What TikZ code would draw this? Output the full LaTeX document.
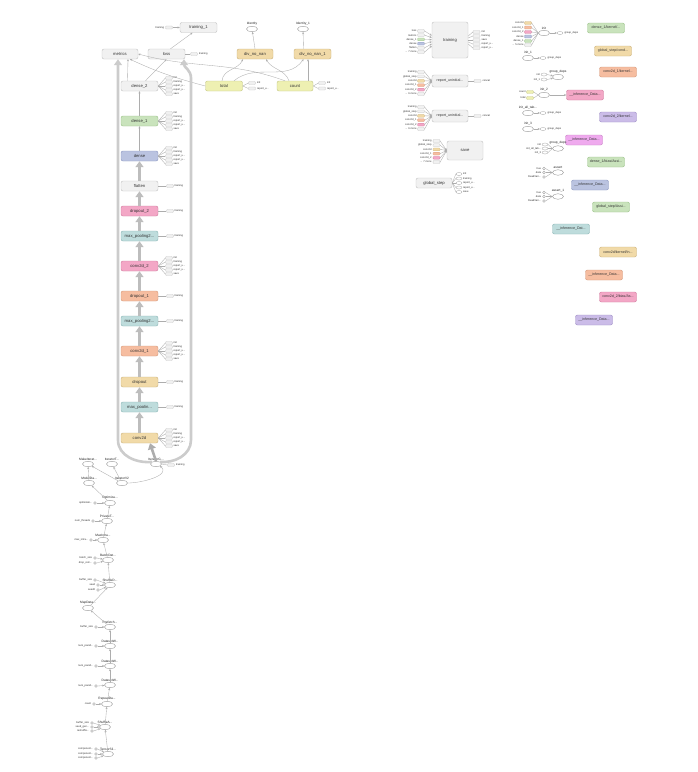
\documentclass[tikz,border=0pt]{standalone}
\usepackage{fontspec}
\setmainfont{Liberation Sans}
\usetikzlibrary{shapes.geometric,arrows.meta}
\definecolor{gF}{HTML}{F1F1F1}\definecolor{gD}{HTML}{C4C4C4}
\definecolor{grF}{HTML}{C9E3BC}\definecolor{grD}{HTML}{9CC38A}
\definecolor{blF}{HTML}{BAC3E0}\definecolor{blD}{HTML}{8D99C2}
\definecolor{pkF}{HTML}{F3A7C6}\definecolor{pkD}{HTML}{D17D9F}
\definecolor{tlF}{HTML}{BEDCDC}\definecolor{tlD}{HTML}{8EB7B7}
\definecolor{saF}{HTML}{F6BDA0}\definecolor{saD}{HTML}{D69A7B}
\definecolor{tnF}{HTML}{F1DAA8}\definecolor{tnD}{HTML}{CDB37D}
\definecolor{ylF}{HTML}{EEF0B2}\definecolor{ylD}{HTML}{C6C886}
\definecolor{vtF}{HTML}{EFAAEE}\definecolor{vtD}{HTML}{C885C6}
\definecolor{puF}{HTML}{CBBCE8}\definecolor{puD}{HTML}{9F8FC6}
\definecolor{edgeg}{HTML}{BDBDBD}
\newcommand{\tdots}{...}
\newcommand{\fanfive}[2]{%
  \foreach \lab [count=\i] in {init,training,report\_u\tdots,report\_u\tdots,save}{%
    \node[sm] (#1s\i) at (169,{#2-12+4*\i}) {};
    \node[tiny,anchor=west] (#1t\i) at (173,{#2-12+4*\i}) {\lab};
    \draw[thin] (#1.east) -- (#1s\i.west);
  }}
\newcommand{\fanone}[2]{%
  \node[sm] (#1s) at (170,#2) {};
  \node[tiny,anchor=west] (#1t) at (174,#2) {training};
  \draw[thin] (#1.east) -- (#1s.west);}
\newcommand{\enode}[4]{%
  \node[ell] (#1) at (#2,#3) {};
  \node[elab,anchor=south] (#1l) at ([yshift=0.5pt]#1.north) {#4};}
\newcommand{\inp}[5]{%
  \node[dot] (#1) at (#2,#3) {};
  \node[tiny,anchor=east] (#1l) at ([xshift=-0.8pt]#1.west) {#4};
  \draw[tarr] (#1.east) -- (#5);}
\begin{document}
\begin{tikzpicture}[x=1pt,y=-1pt,
  box/.style={draw=gD, fill=gF, rounded corners=2pt, minimum width=37pt, minimum height=10pt, inner sep=0pt, line width=0.45pt, font=\fontsize{4.2}{5}\selectfont, text=black!80},
  cbox/.style={box, fill=#1F, draw=#1D},
  ell/.style={ellipse, draw=black!45, fill=white, minimum width=11pt, minimum height=5.5pt, inner sep=0pt, line width=0.35pt},
  sell/.style={ellipse, draw=black!35, fill=white, minimum width=6pt, minimum height=3pt, inner sep=0pt, line width=0.3pt},
  dot/.style={circle, draw=black!40, fill=white, minimum size=2.8pt, inner sep=0pt, line width=0.3pt},
  sm/.style={rounded corners=0.8pt, draw=black!22, fill=black!6, minimum width=7pt, minimum height=2.8pt, inner sep=0pt, line width=0.25pt},
  tiny/.style={font=\fontsize{2.6}{3}\selectfont, text=black!80, inner sep=0.3pt},
  elab/.style={font=\fontsize{3.2}{3.5}\selectfont, text=black!85, inner sep=0.3pt},
  thin/.style={draw=black!32, line width=0.35pt},
  tarr/.style={thin, -{Stealth[length=2.2pt,width=2pt]}},
  fat/.style={draw=edgeg, line width=2.6pt, -{Triangle[length=6pt,width=8pt]}},
  outl/.style={draw=black!20, line width=2.6pt, -{Triangle[length=6pt,width=8pt]}},
  small/.style={font=\fontsize{3.6}{4}\selectfont}
]
\fill[white] (0,0) rectangle (697,772);
\useasboundingbox (0,0) rectangle (697,772);

% ---------- main column ----------
\node[box] (dense2) at (139.5,86) {dense\_2};
\node[cbox=gr] (dense1) at (139.5,121) {dense\_1};
\node[cbox=bl] (dense) at (139.5,156) {dense};
\node[box] (flatten) at (139.5,186) {flatten};
\node[cbox=pk] (drop2) at (139.5,211) {dropout\_2};
\node[cbox=tl] (mp2) at (139.5,236) {max\_pooling2...};
\node[cbox=pk] (conv2) at (139.5,266) {conv2d\_2};
\node[cbox=sa] (drop1) at (139.5,296) {dropout\_1};
\node[cbox=tl] (mp1) at (139.5,321) {max\_pooling2...};
\node[cbox=sa] (conv1) at (139.5,351) {conv2d\_1};
\node[cbox=tn] (drop0) at (139.5,382) {dropout};
\node[cbox=tl] (mp0) at (139.5,407) {max\_poolin...};
\node[cbox=tn] (conv0) at (139.5,438) {conv2d};

\fanfive{dense2}{86}
\fanfive{dense1}{121}
\fanfive{dense}{156}
\fanone{flatten}{186}
\fanone{drop2}{211}
\fanone{mp2}{236}
\fanfive{conv2}{266}
\fanone{drop1}{296}
\fanone{mp1}{321}
\fanfive{conv1}{351}
\fanone{drop0}{382}
\fanone{mp0}{407}
\fanfive{conv0}{438}

\draw[fat] (conv0.north) -- (mp0.south);
\draw[fat] (mp0.north) -- (drop0.south);
\draw[fat] (drop0.north) -- (conv1.south);
\draw[fat] (conv1.north) -- (mp1.south);
\draw[fat] (mp1.north) -- (drop1.south);
\draw[fat] (drop1.north) -- (conv2.south);
\draw[fat] (conv2.north) -- (mp2.south);
\draw[fat] (mp2.north) -- (drop2.south);
\draw[fat] (drop2.north) -- (flatten.south);
\draw[fat] (flatten.north) -- (dense.south);
\draw[tarr] (dense.north) -- (dense1.south);
\draw[tarr] (dense1.north) -- (dense2.south);

% ---------- top cluster ----------
\node[box,minimum width=36pt] (metrics) at (120,54) {metrics};
\node[box] (loss) at (166.5,54) {loss};
\node[box] (train1) at (198.5,27.5) {training\_1};
\node[cbox=tn,minimum width=36pt] (dnn) at (255,54) {div\_no\_nan};
\node[cbox=tn] (dnn1) at (312.5,54) {div\_no\_nan\_1};
\node[cbox=yl] (total) at (224,86) {total};
\node[cbox=yl,minimum width=36pt] (count) at (295,86) {count};
\enode{ident}{252}{29}{Identity}
\enode{identa}{303}{29}{Identity\_1}

\draw[tarr] (dnn.north) -- (ident);
\draw[tarr] ([xshift=-9pt]dnn1.north) -- (identa);
\draw[tarr] ([xshift=-2pt]total.north) to[out=85,in=-115] ([xshift=-12pt]dnn.south);
\draw[tarr] ([xshift=-6pt]count.north) to[out=110,in=-60] ([xshift=11pt]dnn.south);
\draw[tarr] ([xshift=13pt]count.north) -- ([xshift=-4.5pt]dnn1.south);
\draw[tarr] ([xshift=10pt]total.north) to[out=40,in=-125] ([xshift=-9pt]dnn1.south);
\draw[tarr] (total.west) to[out=165,in=-25] ([xshift=10pt]metrics.south);
\draw[tarr] ([xshift=-10pt]count.north) to[out=160,in=-15] (metrics.east);
\draw[tarr] ([xshift=-12pt]dense2.north) -- ([xshift=8pt]metrics.south);
\draw[tarr] ([xshift=6pt]dense2.north) -- (loss.south);
\draw[tarr] ([xshift=4pt]loss.north) -- ([xshift=-6pt]train1.south);
\node[sm] (t1s) at (169,27.5) {};
\node[tiny,anchor=east] (t1t) at (164.5,27.5) {training};
\draw[tarr] (t1s.east) -- (train1.west);
\node[sm] (ls) at (194,54) {};
\node[tiny,anchor=west] (lt) at (198.5,54) {training};
\draw[thin] (loss.east) -- (ls.west);
\node[sm] (tos1) at (252,83) {};
\node[tiny,anchor=west] (tot1) at (256.5,83) {init};
\node[sm] (tos2) at (252,88.5) {};
\node[tiny,anchor=west] (tot2) at (256.5,88.5) {report\_u...};
\draw[thin] (total.east) -- (tos1.west);
\draw[thin] (total.east) -- (tos2.west);
\node[sm] (cos1) at (322,83) {};
\node[tiny,anchor=west] (cot1) at (326.5,83) {init};
\node[sm] (cos2) at (322,88.5) {};
\node[tiny,anchor=west] (cot2) at (326.5,88.5) {report\_u...};
\draw[thin] (count.east) -- (cos1.west);
\draw[thin] (count.east) -- (cos2.west);

% ---------- bottom chain ----------
\enode{mkit}{88}{464}{MakeIterat...}
\enode{ittsh}{112}{464}{IteratorT...}
\enode{itg}{156}{464}{IteratorG...}
\enode{mdlds}{89}{483}{ModelDa...}
\enode{itv}{122}{483}{IteratorV2}
\enode{optd}{110}{503}{Optimiza...}
\enode{ptp}{107}{521}{PrivateT...}
\enode{mxi}{103}{540}{MaxIntra...}
\enode{btc}{108}{560}{BatchDat...}
\enode{shf}{110}{585}{ShuffleD...}
\enode{mpd}{88}{608}{MapData...}
\enode{pft}{110}{627}{Prefetch...}
\enode{dwa}{110}{646}{DatasetW...}
\enode{dwb}{110}{666}{DatasetW...}
\enode{dwc}{110}{685}{DatasetW...}
\enode{rpt}{107}{704}{RepeatDa...}
\enode{sad}{105}{727}{ShuffleA...}
\enode{tsd}{108}{754}{TensorSli...}

\draw[tarr] (mdlds) -- (mkit);
\draw[tarr] (itv) -- (mkit);
\draw[tarr] (itv) -- (ittsh);
\draw[tarr] (itv.east) to[out=0,in=-40] (itg.south east);
\draw[tarr] (optd) -- (mdlds);
\draw[tarr] (ptp) -- (optd);
\draw[tarr] (mxi) -- (ptp);
\draw[tarr] (btc) -- (mxi);
\draw[tarr] (shf) -- (btc);
\draw[tarr] (mpd) -- (shf);
\draw[tarr] (pft) -- (mpd);
\draw[tarr] (dwa) -- (pft);
\draw[tarr] (dwb) -- (dwa);
\draw[tarr] (dwc) -- (dwb);
\draw[tarr] (rpt) -- (dwc);
\draw[tarr] (sad) -- (rpt);
\draw[tarr] (tsd) -- (sad);

\inp{ia}{95}{503}{optimizati...}{optd}
\inp{ib}{93}{521}{num\_threads}{ptp}
\inp{ic}{91}{540}{max\_intra...}{mxi}
\inp{id}{95}{558}{batch\_size}{btc}
\inp{ie}{95}{563}{drop\_rem...}{btc}
\inp{if}{95}{580}{buffer\_size}{shf}
\inp{ig}{98}{585}{seed}{shf}
\inp{ih}{98}{590}{seed2}{shf}
\inp{ii}{96}{627}{buffer\_size}{pft}
\inp{ij}{96}{646}{num\_parall...}{dwa}
\inp{ik}{96}{666}{num\_parall...}{dwb}
\inp{il}{96}{686}{num\_parall...}{dwc}
\inp{im}{94}{704}{count}{rpt}
\inp{in}{92}{723}{buffer\_size}{sad}
\inp{io}{92}{727}{seed\_gen...}{sad}
\inp{ip}{92}{731}{reshuffle...}{sad}
\inp{iq}{96}{749}{component...}{tsd}
\inp{ir}{96}{754}{component...}{tsd}
\inp{is}{96}{758}{component...}{tsd}

\node[sm] (itgs) at (171,465) {};
\node[tiny,anchor=west] (itgt) at (175.5,465) {training};
\draw[thin] (itg.east) -- (itgs.west);

% thick grey edges from IteratorGetNext
\draw[outl] (itg.north west) to[out=185,in=270] (118,440) -- (118,0 |- metrics.south);
\draw[outl] (itg.north east) to[out=-5,in=270] (191,440) -- (191,78) to[out=90,in=270] (184,0 |- loss.south);
\draw[fat,draw=black!32] (itg.north) -- ([xshift=10.5pt]conv0.south);

% ---------- right area ----------
\node[box,minimum width=36pt,minimum height=36pt] (training) at (450,40) {training};
\foreach \yy/\cc/\lab [count=\i] in {31/g/loss,35.2/g/metrics,39.4/gr/dense\_1,43.6/bl/dense,47.8/g/flatten,52/g/\tdots{} 7 more}{
  \node[sm,fill=\cc F,draw=\cc D] (trin\i) at (421,\yy) {};
  \node[tiny,anchor=east] (trinl\i) at (417,\yy) {\lab};
  \draw[tarr] (trin\i.east) -- ([yshift={(40-\yy)*0.5pt}]training.west);
}
\foreach \yy/\lab [count=\i] in {32/init,36/training,40/save,44/report\_u\tdots,48/report\_u\tdots}{
  \node[sm] (trout\i) at (476.5,\yy) {};
  \node[tiny,anchor=west] (troutl\i) at (481,\yy) {\lab};
  \draw[thin] ([yshift={(40-\yy)*0.5pt}]training.east) -- (trout\i.west);
}

\node[box,minimum width=36pt,minimum height=12pt,small] (rep1) at (450,81) {report\_uninitial...};
\node[box,minimum width=36pt,minimum height=12pt,small] (rep2) at (450,116) {report\_uninitial...};
\foreach \dy/\cc/\lab [count=\i] in {-9/g/training,-4.6/g/global\_step,-0.2/tn/conv2d,4.2/sa/conv2d\_1,8.6/pk/conv2d\_2,13/g/\tdots{} 6 more}{
  \node[sm,fill=\cc F,draw=\cc D] (ra\i) at (421,81+\dy) {};
  \node[tiny,anchor=east] (ral\i) at (417,81+\dy) {\lab};
  \draw[tarr] (ra\i.east) -- (rep1.west);
  \node[sm,fill=\cc F,draw=\cc D] (rb\i) at (421,116+\dy) {};
  \node[tiny,anchor=east] (rbl\i) at (417,116+\dy) {\lab};
  \draw[tarr] (rb\i.east) -- (rep2.west);
}
\node[sm] (rao) at (477.5,81) {};
\node[tiny,anchor=west] (raol) at (482,81) {concat};
\draw[thin] (rep1.east) -- (rao.west);
\node[sm] (rbo) at (477.5,116) {};
\node[tiny,anchor=west] (rbol) at (482,116) {concat};
\draw[thin] (rep2.east) -- (rbo.west);

\node[box,minimum width=36pt,minimum height=19pt] (save) at (465,150.5) {save};
\foreach \yy/\cc/\lab [count=\i] in {141/g/training,145.2/g/global\_step,149.4/tn/conv2d,153.6/sa/conv2d\_1,157.8/pk/conv2d\_2,162/g/\tdots{} 7 more}{
  \node[sm,fill=\cc F,draw=\cc D] (sv\i) at (436.5,\yy) {};
  \node[tiny,anchor=east] (svl\i) at (432,\yy) {\lab};
  \draw[tarr] (sv\i.east) -- (save.west);
}

\node[box,minimum width=36pt] (gstep) at (434,183) {global\_step};
\foreach \yy/\lab [count=\i] in {174/init,178.5/training,183/report\_u\tdots,187.5/report\_u\tdots,192/save}{
  \node[sell] (gs\i) at (459,\yy) {};
  \node[tiny,anchor=west] (gsl\i) at (462.5,\yy) {\lab};
  \draw[thin] (gstep.east) -- (gs\i.west);
}

% ---------- far right ----------
\node[cbox=gr,small] (ra) at (606,28) {dense\_1/kernel/...};
\node[cbox=tn,small] (rb) at (613,51) {global\_step/cond...};
\node[cbox=sa,small] (rc) at (618,72) {conv2d\_1/kernel...};
\node[cbox=pk,small] (rd) at (585,95) {\_\_inference\_Data...};
\node[cbox=pu,small] (re) at (618,117) {conv2d\_2/kernel...};
\node[cbox=vt,small] (rf) at (584,140) {\_\_inference\_Data...};
\node[cbox=gr,small] (rg) at (606,162) {dense\_1/bias/Assi...};
\node[cbox=bl,small] (rh) at (590,185) {\_\_inference\_Data...};
\node[cbox=gr,small] (ri) at (611,207) {global\_step/Assi...};
\node[cbox=tl,small] (rj) at (571,229) {\_\_inference\_Dat...};
\node[cbox=tn,small] (rk) at (618,252) {conv2d/kernel/In...};
\node[cbox=sa,small] (rl) at (604,275) {\_\_inference\_Data...};
\node[cbox=pk,small] (rm) at (618,297) {conv2d\_2/bias/As...};
\node[cbox=pu,small] (rn) at (594,320) {\_\_inference\_Data...};

\enode{init}{544}{33}{init}
\foreach \yy/\cc/\lab [count=\i] in {23/tn/conv2d,27.5/sa/conv2d\_1,32/pk/conv2d\_2,36.5/bl/dense,41/gr/dense\_1,45/g/\tdots{} 5 more}{
  \node[sm,fill=\cc F,draw=\cc D] (ini\i) at (528,\yy) {};
  \node[tiny,anchor=east] (inil\i) at (524,\yy) {\lab};
  \draw[thin] (ini\i.east) -- (init.west);
}
\node[sell] (gda) at (560,33) {};
\node[tiny,anchor=west] (gdal) at (564,33) {group\_deps};
\draw[tarr] (init.east) -- (gda.west);

\enode{inita}{528}{58}{init\_1}
\node[sell] (gdb) at (543,58) {};
\node[tiny,anchor=west] (gdbl) at (547,58) {group\_deps};
\draw[tarr] (inita.east) -- (gdb.west);

\enode{gdeps}{558}{77}{group\_deps}
\node[sell] (gca) at (544,74.5) {};
\node[tiny,anchor=east] (gcal) at (540.5,74.5) {init};
\node[sell] (gcb) at (544,79.5) {};
\node[tiny,anchor=east] (gcbl) at (540.5,79.5) {init\_1};
\draw[tarr] (gca.east) -- (gdeps);
\draw[tarr] (gcb.east) -- (gdeps);

\enode{initb}{544}{95}{init\_2}
\node[sm,fill=ylF,draw=ylD] (iba) at (530,92) {};
\node[tiny,anchor=east] (ibal) at (526,92) {count};
\node[sm,fill=ylF,draw=ylD] (ibb) at (530,98) {};
\node[tiny,anchor=east] (ibbl) at (526,98) {total};
\draw[thin] (iba.east) -- (initb.west);
\draw[thin] (ibb.east) -- (initb.west);
\draw[tarr] (initb.east) -- (rd.west);

\enode{initc}{528}{113}{init\_all\_tab...}
\node[sell] (gdc) at (543,113) {};
\node[tiny,anchor=west] (gdcl) at (547,113) {group\_deps};
\draw[tarr] (initc.east) -- (gdc.west);

\enode{initd}{528}{129}{init\_3}
\node[sell] (gdd) at (543,129) {};
\node[tiny,anchor=west] (gddl) at (547,129) {group\_deps};
\draw[tarr] (initd.east) -- (gdd.west);

\enode{gdepsb}{558}{148.5}{group\_deps}
\foreach \yy/\lab [count=\i] in {144.5/init,148.5/init\_all\_tab\tdots,152.5/init\_3}{
  \node[sell] (gg\i) at (545,\yy) {};
  \node[tiny,anchor=east] (ggl\i) at (541.5,\yy) {\lab};
  \draw[thin] (gg\i.east) -- (gdepsb.west);
}

\enode{asrt}{558}{172.5}{assert}
\enode{asrtb}{558}{196.5}{assert\_1}
\foreach \dy/\lab [count=\i] in {-4/true,0/data,4.5/ReadVari\tdots}{
  \node[dot] (aa\i) at (544,172.5+\dy) {};
  \node[tiny,anchor=east] (aal\i) at (541.5,172.5+\dy) {\lab};
  \draw[thin] (aa\i.east) -- (asrt.west);
  \node[dot] (ab\i) at (544,196.5+\dy) {};
  \node[tiny,anchor=east] (abl\i) at (541.5,196.5+\dy) {\lab};
  \draw[thin] (ab\i.east) -- (asrtb.west);
}
\end{tikzpicture}
\end{document}
